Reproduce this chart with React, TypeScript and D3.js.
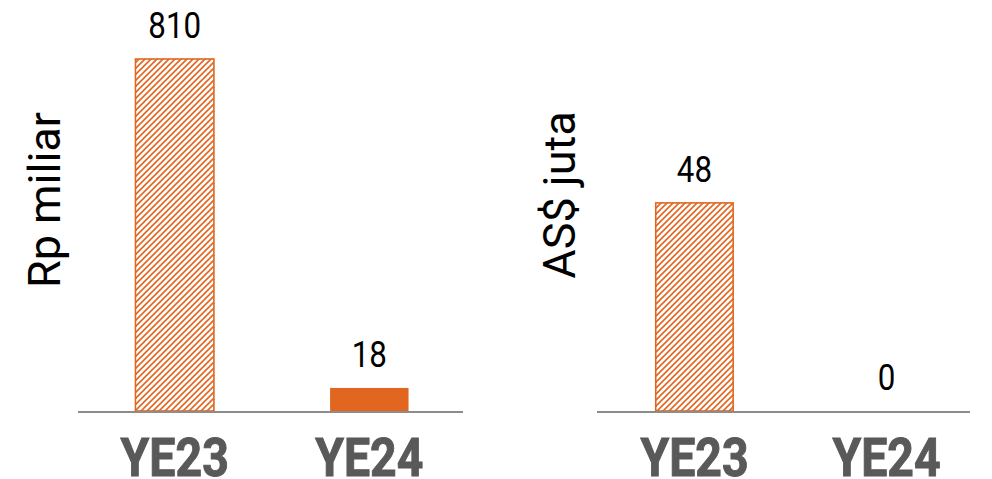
import React, { useEffect, useRef } from "react";
import * as d3 from "d3";

// categories and values
const categories = ["YE23", "YE24"];
const rpValues = [810, 18];
const audValues = [48, 0];
const hatched = [true, false];
const axisTitles = ["Rp miliar", "AS$ juta"];

const ORANGE = "#E2661F";
const W = 992;
const H = 479;

export default function App() {
    const svgRef = useRef<SVGSVGElement>(null);

    useEffect(() => {
        if (!svgRef.current) return;
        const svg = d3.select(svgRef.current);
        svg.selectAll("*").remove();

        // hatch pattern for YE23 bars
        const pat = svg.append("defs")
            .append("pattern")
            .attr("id", "hatch")
            .attr("patternUnits", "userSpaceOnUse")
            .attr("width", 6)
            .attr("height", 6);
        pat.append("path")
            .attr("d", "M-1,1 l2,-2 M0,6 l6,-6 M5,7 l2,-2")
            .attr("stroke", ORANGE)
            .attr("stroke-width", 1.6);

        const baseY = 411;
        const topY = 59;

        const panels = [
            { values: rpValues, title: axisTitles[0], domain: [-37.5, 810], axis: [78, 463], band: [80, 464], titleX: 60, titleY: 200 },
            { values: audValues, title: axisTitles[1], domain: [0, 81.2], axis: [597, 970], band: [601, 980], titleX: 575, titleY: 195 },
        ];

        panels.forEach(p => {
            const x = d3.scaleBand()
                .domain(categories)
                .range(p.band as [number, number])
                .paddingInner(0.597)
                .paddingOuter(0.285);
            const y = d3.scaleLinear()
                .domain(p.domain)
                .range([baseY, topY]);

            const g = svg.append("g");

            // bars
            g.selectAll(".bar")
                .data(p.values.map((v, i) => ({ v, i, name: categories[i] })).filter(d => d.v > 0))
                .enter()
                .append("rect")
                .attr("x", d => x(d.name) || 0)
                .attr("width", x.bandwidth())
                .attr("y", d => y(d.v))
                .attr("height", d => y(p.domain[0]) - y(d.v))
                .attr("fill", d => hatched[d.i] ? "url(#hatch)" : ORANGE)
                .attr("stroke", d => hatched[d.i] ? ORANGE : "none")
                .attr("stroke-width", 1.6);

            // baseline
            g.append("line")
                .attr("x1", p.axis[0])
                .attr("x2", p.axis[1])
                .attr("y1", baseY + 1)
                .attr("y2", baseY + 1)
                .attr("stroke", "#8c8c8c")
                .attr("stroke-width", 2);

            // value labels
            g.selectAll(".val")
                .data(p.values.map((v, i) => ({ v, name: categories[i] })))
                .enter()
                .append("text")
                .attr("transform", d => `translate(${(x(d.name) || 0) + x.bandwidth() / 2},${Math.min(y(d.v), baseY) - 21}) scale(0.87,1)`)
                .attr("text-anchor", "middle")
                .style("font-family", "Roboto")
                .style("font-size", "36px")
                .style("fill", "#000")
                .text(d => d.v);

            // category labels
            g.selectAll(".cat")
                .data(categories)
                .enter()
                .append("text")
                .attr("transform", d => `translate(${(x(d) || 0) + x.bandwidth() / 2},476) scale(0.86,1)`)
                .attr("text-anchor", "middle")
                .style("font-family", "Roboto")
                .style("font-weight", "bold")
                .style("font-size", "54px")
                .style("fill", "#595959")
                .style("stroke", "#595959")
                .style("stroke-width", 1)
                .text(d => d);

            // axis title
            g.append("text")
                .attr("transform", `translate(${p.titleX},${p.titleY}) rotate(-90)`)
                .attr("text-anchor", "middle")
                .style("font-family", "Roboto")
                .style("font-size", "45px")
                .style("fill", "#000")
                .text(p.title);
        });
    }, []);

    return (
        <svg
            ref={svgRef}
            width={W}
            height={H}
            style={{ position: "absolute", left: 0, top: 0, background: "#fff" }}
        ></svg>
    );
}
